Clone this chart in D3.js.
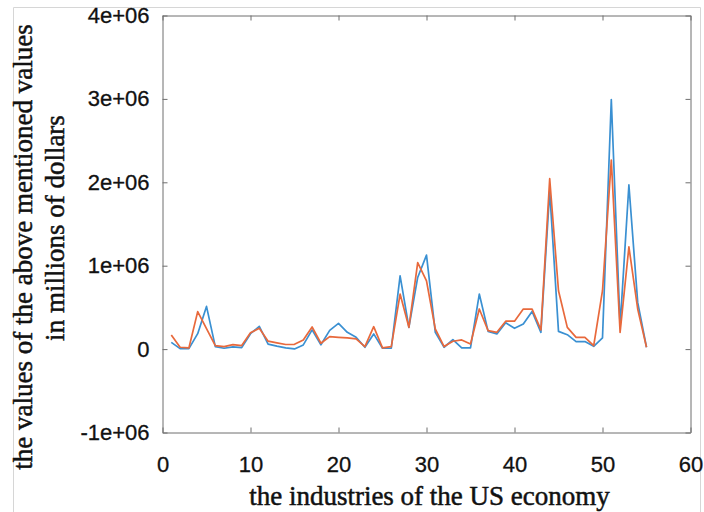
<!DOCTYPE html>
<html><head><meta charset="utf-8">
<script src="https://cdn.jsdelivr.net/npm/d3@7"></script>
<style>body{margin:0;background:#fff}svg{display:block}</style>
</head><body>
<script>
const industries = d3.range(1, 56);
const seriesA = [81e3,6e3,6e3,185e3,512e3,30e3,10e3,26e3,18e3,185e3,
  273e3,60e3,35e3,15e3,2e3,50e3,230e3,52e3,225e3,309e3,
  201e3,141e3,22e3,182e3,10e3,10e3,879e3,261e3,859e3,1127e3,
  201e3,22e3,114e3,14e3,14e3,660e3,213e3,182e3,315e3,249e3,
  301e3,452e3,201e3,1896e3,213e3,173e3,90e3,90e3,34e3,134e3,
  2992e3,275e3,1968e3,560e3,22e3];
const seriesB = [170e3,22e3,14e3,449e3,245e3,42e3,30e3,54e3,42e3,195e3,
  249e3,95e3,75e3,55e3,57e3,110e3,265e3,70e3,150e3,141e3,
  134e3,122e3,30e3,269e3,14e3,30e3,660e3,261e3,1038e3,819e3,
  241e3,30e3,94e3,110e3,62e3,481e3,221e3,201e3,335e3,335e3,
  480e3,480e3,230e3,2043e3,700e3,261e3,141e3,141e3,42e3,700e3,
  2267e3,201e3,1226e3,481e3,22e3];
const xTicks = [0,10,20,30,40,50,60];
const yTicks = [-1e6,0,1e6,2e6,3e6,4e6];
const yTickLabels = ["-1e+06","0","1e+06","2e+06","3e+06","4e+06"];
const xLabel = "the industries of the US economy";
const yLabel1 = "the values of the above mentioned values";
const yLabel2 = "in millions of dollars";

const W = 704, H = 512;
const svg = d3.select("body").append("svg").attr("width", W).attr("height", H);

svg.append("path").attr("d", "M13.5,512 V7.5 H700.5 V512")
  .attr("fill","none").attr("stroke","#d6d6d6").attr("stroke-width",1);

const L = 162.5, R = 690.5, T = 15.5, B = 432.5;
const x = d3.scaleLinear().domain([0,60]).range([L,R]);
const y = d3.scaleLinear().domain([-1e6,4e6]).range([B,T]);
const axisColor = "#6e6e6e";
const tickFont = "Liberation Sans, Arial, sans-serif";

const gx = svg.append("g").attr("transform",`translate(0,${B})`)
  .call(d3.axisBottom(x).tickValues(xTicks).tickSizeInner(-5).tickSizeOuter(0).tickPadding(24).tickFormat(d3.format("d")));
const gxTop = svg.append("g").attr("transform",`translate(0,${T})`)
  .call(d3.axisTop(x).tickValues(xTicks).tickSizeInner(-5).tickSizeOuter(0).tickFormat(""));
const gy = svg.append("g").attr("transform",`translate(${L},0)`)
  .call(d3.axisLeft(y).tickValues(yTicks).tickSizeInner(-5).tickSizeOuter(0).tickPadding(13)
    .tickFormat((d,i)=>yTickLabels[i]));
const gyR = svg.append("g").attr("transform",`translate(${R},0)`)
  .call(d3.axisRight(y).tickValues(yTicks).tickSizeInner(-5).tickSizeOuter(0).tickFormat(""));
[gx,gxTop,gy,gyR].forEach(g=>{
  g.selectAll("path.domain").attr("stroke",axisColor);
  g.selectAll(".tick line").attr("stroke",axisColor);
  g.selectAll("text").attr("fill","#111").style("font-family",tickFont).style("font-size","22px")
    .attr("stroke","#111").attr("stroke-width",0.3);
});

const line = d3.line().x((d,i)=>x(industries[i])).y(d=>y(d));
svg.append("path").datum(seriesA).attr("d",line)
  .attr("fill","none").attr("stroke","#3a90d2").attr("stroke-width",1.7).attr("stroke-linejoin","round");
svg.append("path").datum(seriesB).attr("d",line)
  .attr("fill","none").attr("stroke","#e8693c").attr("stroke-width",1.7).attr("stroke-linejoin","round");

const serif = "Liberation Serif, Times New Roman, serif";
function lbl(sel){ return sel.style("font-family",serif).style("font-size","27px").attr("fill","#111")
  .attr("stroke","#111").attr("stroke-width",0.5).attr("text-anchor","middle"); }
lbl(svg.append("text").attr("x",(L+R)/2 + 3).attr("y",505)).text(xLabel);
lbl(svg.append("text").attr("transform","translate(32,247) rotate(-90)")).text(yLabel1);
lbl(svg.append("text").attr("transform","translate(64,228) rotate(-90)")).text(yLabel2);
</script>
</body></html>
